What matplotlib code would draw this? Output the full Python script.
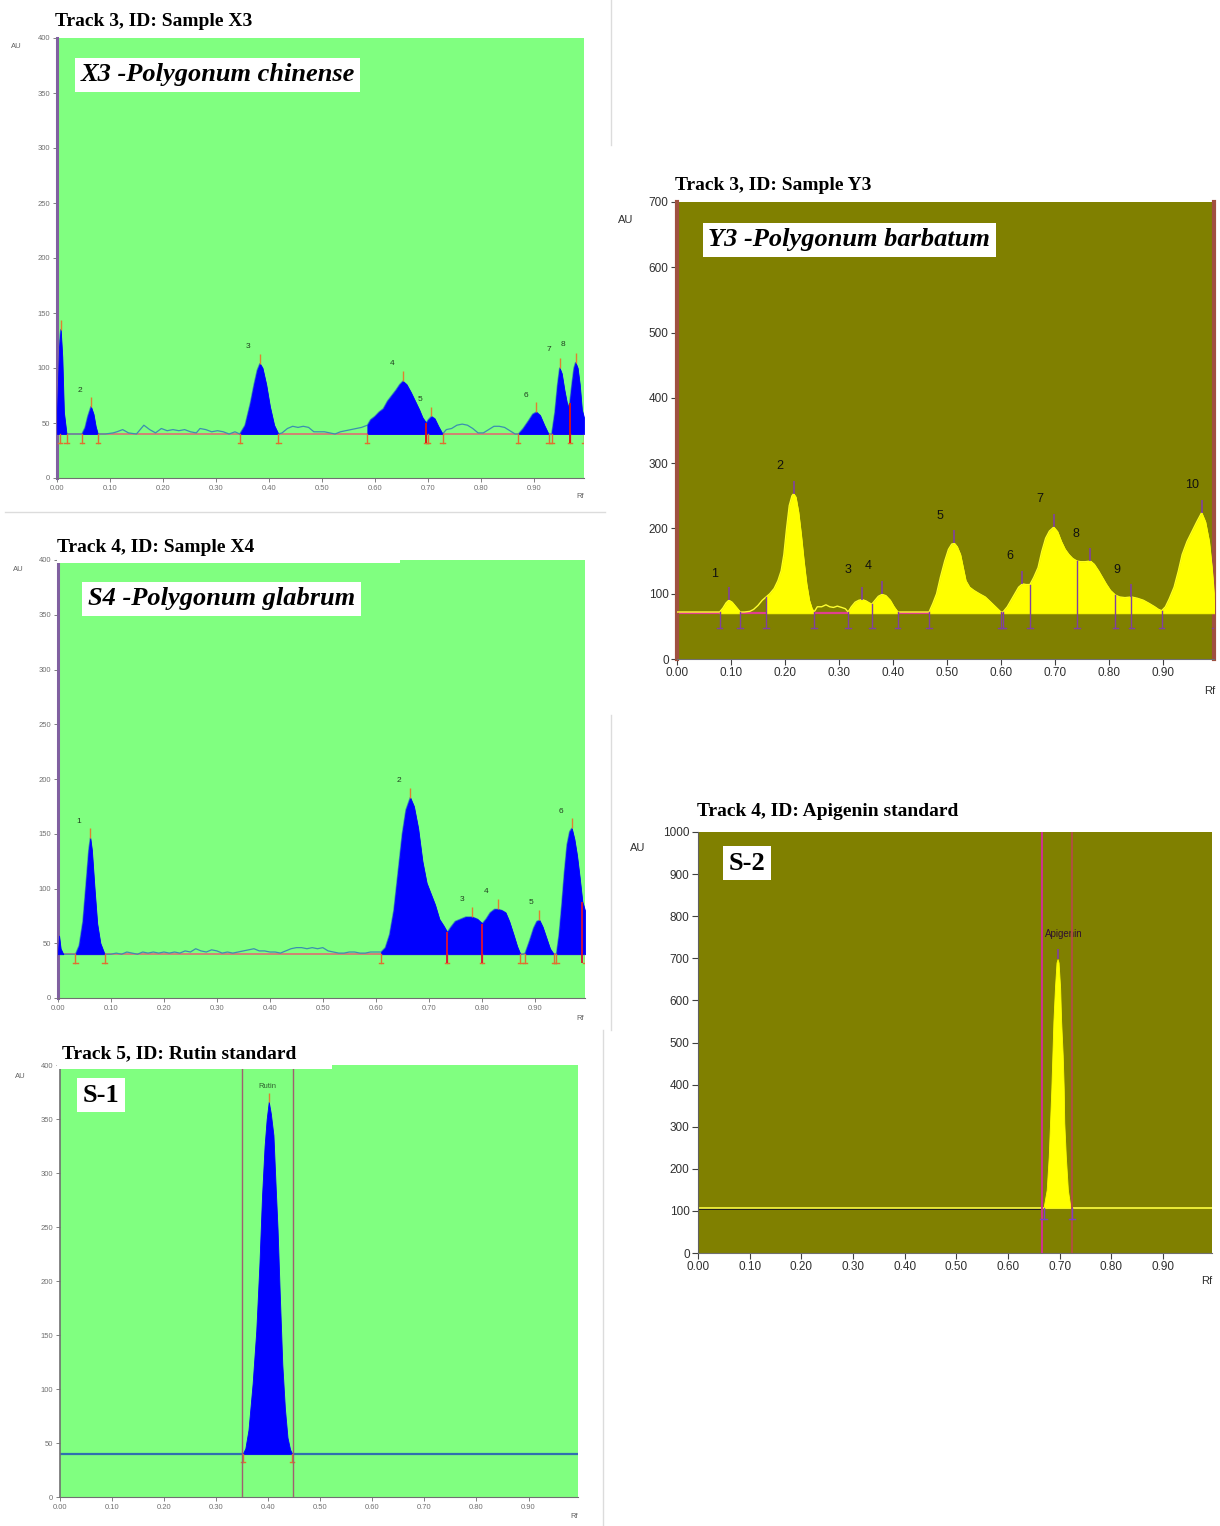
import numpy as np
import matplotlib
matplotlib.use("Agg")
import matplotlib.pyplot as plt
from matplotlib.patches import Rectangle
from matplotlib.lines import Line2D

W, H = 1220, 1526

# ---- X3 (Polygonum chinense) ----
x3_rf = [0.000, 0.004, 0.007, 0.010, 0.013, 0.018, 0.030, 0.047, 0.053, 0.058, 0.064, 0.069, 0.073, 0.077,
         0.091, 0.106, 0.113, 0.124, 0.135, 0.150, 0.164, 0.175, 0.186, 0.197, 0.208, 0.219, 0.230, 0.241,
         0.252, 0.263, 0.270, 0.281, 0.292, 0.303, 0.314, 0.325, 0.336, 0.345, 0.355, 0.365, 0.372, 0.378,
         0.383, 0.388, 0.395, 0.402, 0.410, 0.418, 0.425, 0.435, 0.445, 0.455, 0.465, 0.475, 0.485, 0.495,
         0.505, 0.515, 0.525, 0.535, 0.545, 0.555, 0.565, 0.575, 0.586, 0.592, 0.600, 0.608, 0.616, 0.624,
         0.632, 0.640, 0.647, 0.653, 0.660, 0.668, 0.676, 0.684, 0.690, 0.697, 0.701, 0.707, 0.713, 0.720,
         0.728, 0.735, 0.745, 0.755, 0.765, 0.775, 0.785, 0.795, 0.805, 0.815, 0.825, 0.835, 0.845, 0.855,
         0.865, 0.871, 0.880, 0.890, 0.898, 0.905, 0.912, 0.920, 0.928, 0.934, 0.940, 0.945, 0.949, 0.953,
         0.958, 0.964, 0.968, 0.972, 0.976, 0.979, 0.983, 0.987, 0.991, 0.995]
x3_au = [60, 120, 135, 110, 60, 40, 40, 40, 46, 56, 65, 58, 47, 40,
         40, 41, 42, 44, 41, 40, 48, 44, 41, 45, 43, 44, 43, 44,
         42, 41, 45, 44, 42, 43, 42, 40, 42, 40, 48, 68, 85, 98,
         104, 100, 85, 65, 48, 40, 41, 45, 47, 46, 47, 46, 42, 42,
         42, 41, 40, 42, 43, 44, 45, 46, 48, 53, 56, 60, 63, 70,
         75, 80, 85, 88, 85, 78, 70, 62, 55, 50, 53, 56, 54, 47,
         40, 44, 45, 48, 49, 48, 45, 41, 41, 44, 47, 47, 46, 43,
         40, 40, 45, 52, 58, 60, 57, 48, 40, 40, 60, 85, 100, 95,
         80, 65, 68, 85, 100, 105, 100, 85, 62, 55]
x3_peak_start = [0.000, 0.047, 0.345, 0.586, 0.871, 0.934]
x3_peak_end = [0.018, 0.077, 0.418, 0.728, 0.928, 0.995]
x3_top_rf = [0.007, 0.064, 0.383, 0.653, 0.707, 0.905, 0.949, 0.979]
x3_top_au = [135, 65, 104, 88, 56, 60, 100, 105]
x3_labels = ["2", "3", "4", "5", "6", "7", "8"]
x3_lab_rf = [0.044, 0.361, 0.632, 0.685, 0.885, 0.928, 0.956]
x3_lab_au = [80, 120, 104, 71, 75, 117, 121]
x3_brackets = [0.006, 0.018, 0.047, 0.077, 0.345, 0.418, 0.586, 0.697, 0.701, 0.728, 0.871, 0.928, 0.934, 0.968, 0.995]
x3_split_rf = [0.697, 0.968]
x3_split_au = [50, 68]

# ---- X4 (Polygonum glabrum) ----
x4_rf = [0.000, 0.002, 0.005, 0.010, 0.020, 0.033, 0.040, 0.047, 0.053, 0.058, 0.061, 0.064, 0.069, 0.074,
         0.080, 0.088, 0.10, 0.11, 0.12, 0.13, 0.14, 0.15, 0.16, 0.17, 0.18, 0.19, 0.20, 0.21, 0.22, 0.23,
         0.24, 0.25, 0.26, 0.27, 0.28, 0.29, 0.30, 0.31, 0.32, 0.33, 0.34, 0.35, 0.36, 0.37, 0.38, 0.39,
         0.40, 0.41, 0.42, 0.43, 0.44, 0.45, 0.46, 0.47, 0.48, 0.49, 0.50, 0.51, 0.52, 0.53, 0.54, 0.55,
         0.56, 0.57, 0.58, 0.59, 0.60, 0.61, 0.618, 0.626, 0.634, 0.642, 0.650, 0.657, 0.665, 0.672, 0.680,
         0.688, 0.696, 0.704, 0.712, 0.720, 0.728, 0.735, 0.742, 0.750, 0.760, 0.770, 0.782, 0.792, 0.801,
         0.808, 0.816, 0.824, 0.831, 0.838, 0.845, 0.852, 0.860, 0.867, 0.873, 0.878, 0.882, 0.890, 0.898,
         0.904, 0.909, 0.915, 0.922, 0.929, 0.936, 0.941, 0.946, 0.951, 0.956, 0.961, 0.966, 0.970, 0.975,
         0.980, 0.985, 0.990, 0.995]
x4_au = [42, 57, 45, 40, 40, 40, 48, 70, 105, 135, 146, 135, 100, 68,
         50, 40, 40, 41, 40, 42, 41, 40, 42, 41, 42, 41, 42, 41, 42, 41,
         43, 42, 45, 43, 42, 44, 43, 41, 42, 41, 42, 43, 44, 45, 43, 43,
         42, 42, 41, 43, 45, 46, 46, 45, 46, 45, 46, 43, 42, 41, 41, 42,
         42, 41, 41, 42, 42, 42, 46, 58, 80, 115, 150, 172, 183, 175, 155,
         125, 105, 95, 85, 72, 66, 60, 65, 70, 72, 74, 74, 72, 68,
         72, 78, 81, 81, 80, 78, 70, 58, 47, 40, 40, 41, 52, 64,
         70, 71, 65, 55, 45, 40, 40, 58, 85, 115, 140, 152, 155, 145,
         130, 110, 88, 80]
x4_peak_start = [0.000, 0.033, 0.610, 0.882, 0.941]
x4_peak_end = [0.010, 0.088, 0.873, 0.936, 0.995]
x4_top_rf = [0.061, 0.665, 0.782, 0.831, 0.909, 0.970]
x4_top_au = [146, 183, 74, 81, 71, 155]
x4_labels = ["1", "2", "3", "4", "5", "6"]
x4_lab_rf = [0.040, 0.643, 0.762, 0.809, 0.893, 0.949]
x4_lab_au = [161, 199, 90, 97, 87, 170]
x4_brackets = [0.033, 0.088, 0.610, 0.735, 0.801, 0.873, 0.882, 0.936, 0.941, 0.995]
x4_split_rf = [0.735, 0.801, 0.990]
x4_split_au = [60, 68, 88]

# ---- S-1 Rutin standard ----
s1_rf = [0.000, 0.351, 0.356, 0.362, 0.370, 0.377, 0.383, 0.388, 0.393, 0.397, 0.401, 0.405, 0.410,
         0.414, 0.418, 0.422, 0.427, 0.432, 0.437, 0.442, 0.446, 0.995]
s1_au = [40, 40, 45, 62, 105, 154, 215, 278, 325, 350, 366, 355, 335,
         290, 247, 190, 123, 82, 55, 44, 40, 40]
s1_peak_start = [0.351]
s1_peak_end = [0.446]
s1_top_rf = [0.401]
s1_top_au = [366]
s1_brackets = [0.351, 0.446]
s1_vlines = [0.349, 0.448]

# ---- Y3 (Polygonum barbatum) ----
y3_rf = [0.000, 0.079, 0.085, 0.091, 0.096, 0.102, 0.109, 0.117, 0.125, 0.135, 0.142, 0.150, 0.158, 0.165,
         0.172, 0.180, 0.187, 0.193, 0.198, 0.203, 0.208, 0.213, 0.216, 0.220, 0.225, 0.230, 0.235, 0.240,
         0.245, 0.250, 0.254, 0.260, 0.268, 0.276, 0.283, 0.290, 0.297, 0.305, 0.312, 0.317, 0.323, 0.330,
         0.337, 0.343, 0.350, 0.356, 0.361, 0.367, 0.373, 0.380, 0.387, 0.395, 0.402, 0.409, 0.467, 0.474,
         0.481, 0.488, 0.496, 0.503, 0.509, 0.514, 0.519, 0.525, 0.530, 0.535, 0.542, 0.550, 0.560, 0.571,
         0.580, 0.590, 0.600, 0.604, 0.612, 0.619, 0.626, 0.633, 0.640, 0.647, 0.654, 0.661, 0.669, 0.676,
         0.683, 0.690, 0.698, 0.705, 0.712, 0.719, 0.726, 0.733, 0.741, 0.748, 0.756, 0.766, 0.773, 0.781,
         0.788, 0.795, 0.803, 0.812, 0.820, 0.830, 0.842, 0.853, 0.864, 0.875, 0.885, 0.892, 0.898, 0.905,
         0.912, 0.921, 0.929, 0.936, 0.945, 0.954, 0.963, 0.972, 0.979, 0.986, 0.991, 0.996]
y3_au = [72, 72, 78, 86, 90, 87, 80, 72, 72, 73, 76, 82, 90, 95,
         100, 108, 120, 135, 160, 200, 235, 250, 253, 248, 225, 190, 150, 115,
         90, 77, 72, 80, 80, 83, 80, 79, 81, 79, 77, 72, 80, 87,
         90, 91, 89, 86, 84, 90, 96, 99, 97, 90, 80, 72, 72, 85,
         100, 125, 150, 168, 176, 177, 172, 160, 140, 120, 110, 105, 100, 95,
         88, 80, 72, 72, 80, 90, 100, 110, 115, 114, 114, 125, 140, 165,
         185, 196, 202, 195, 180, 168, 160, 154, 150, 149, 149, 150, 145, 135,
         125, 115, 105, 98, 95, 94, 95, 93, 90, 85, 80, 76, 74, 80,
         92, 110, 135, 160, 180, 195, 210, 224, 210, 180, 140, 90]
y3_peak_start = [0.079, 0.165, 0.317, 0.467, 0.604]
y3_peak_end = [0.117, 0.254, 0.409, 0.600, 0.996]
y3_top_rf = [0.096, 0.216, 0.343, 0.380, 0.514, 0.640, 0.698, 0.766, 0.842, 0.972]
y3_top_au = [90, 253, 91, 99, 177, 115, 202, 150, 95, 224]
y3_labels = ["1", "2", "3", "4", "5", "6", "7", "8", "9", "10"]
y3_lab_rf = [0.069, 0.190, 0.317, 0.355, 0.488, 0.617, 0.672, 0.739, 0.815, 0.954]
y3_lab_au = [130, 295, 136, 142, 219, 158, 245, 192, 136, 266]
y3_brackets = [0.079, 0.117, 0.165, 0.254, 0.317, 0.361, 0.409, 0.467, 0.600, 0.604,
               0.654, 0.741, 0.812, 0.842, 0.898, 0.996]
y3_bracket_top = [72, 72, 95, 72, 72, 84, 72, 72, 72, 72, 114, 150, 98, 95, 74, 90]

# ---- S-2 Apigenin standard ----
s2_rf = [0.000, 0.669, 0.675, 0.679, 0.6815, 0.684, 0.686, 0.688, 0.691, 0.694, 0.696, 0.698, 0.701,
         0.703, 0.706, 0.708, 0.709, 0.712, 0.716, 0.721, 0.996]
s2_au = [108, 108, 150, 230, 310, 390, 470, 550, 630, 690, 698, 690, 630,
         550, 470, 390, 310, 230, 150, 108, 108]
s2_peak_start = [0.669]
s2_peak_end = [0.721]
s2_top_rf = [0.696]
s2_top_au = [698]
s2_brackets = [0.669, 0.724]
s2_vlines = [0.666, 0.724]

xticks = [0.0, 0.1, 0.2, 0.3, 0.4, 0.5, 0.6, 0.7, 0.8, 0.9]

SERIF = ["Liberation Serif", "DejaVu Serif"]
SANS = ["Liberation Sans", "DejaVu Sans"]


def fbox(l, t, r, b):
    return [l / W, 1 - b / H, (r - l) / W, (b - t) / H]


def fpt(x, y):
    return x / W, 1 - y / H


def setup_axes(ax, bg, ymax, ystep, small, spine_col):
    ax.set_facecolor(bg)
    ax.set_xlim(0, 0.995)
    ax.set_ylim(0, ymax)
    ax.set_xticks(xticks)
    ax.set_xticklabels(["%.2f" % t for t in xticks])
    ax.set_yticks(list(range(0, ymax + 1, ystep)))
    for s in ["top", "right"]:
        ax.spines[s].set_visible(False)
    ax.spines["bottom"].set_color("#707070")
    ax.spines["left"].set_color(spine_col)
    if small:
        ax.spines["left"].set_linewidth(2.2)
        ax.tick_params(length=3, width=0.7, color="#808080", labelsize=5.5,
                       labelcolor="#707070", pad=2)
    else:
        ax.tick_params(length=4, width=0.8, color="#404040", labelsize=8.5,
                       labelcolor="#303030", pad=2)
    for lab in ax.get_xticklabels() + ax.get_yticklabels():
        lab.set_family(SANS)


def fill_peaks(ax, rf, au, base, starts, ends, col, z=3):
    rf = np.array(rf)
    au = np.array(au)
    for s, e in zip(starts, ends):
        m = (rf >= s) & (rf <= e)
        ax.fill_between(rf[m], au[m], base, color=col, lw=0.6, zorder=z)


def brackets(ax, pos, base, depth, col, w=0.004, tops=None):
    for i, b in enumerate(pos):
        top = base if tops is None else tops[i]
        ax.plot([b, b], [base - depth, top], color=col, lw=1.0, zorder=4)
        ax.plot([b - w, b + w], [base - depth, base - depth], color=col, lw=1.0, zorder=4)


def sub_label(ax, fx, fy, text, italic=True, size=19, ha="left"):
    ax.text(fx, fy, text, transform=ax.transAxes, ha=ha, va="center",
            fontsize=size, family=SERIF, weight="bold",
            style="italic" if italic else "normal", zorder=6,
            bbox=dict(fc="white", ec="none", pad=4))


fig = plt.figure(figsize=(W / 100, H / 100), dpi=100)
fig.patch.set_facecolor("white")

green = "#80ff80"
olive = "#808000"

# X3 panel
ax = fig.add_axes(fbox(57, 38, 584, 478))
setup_axes(ax, green, 400, 50, True, "#8060a0")
ax.axhline(40, color="#e07070", lw=1.2, zorder=2)
ax.plot(x3_rf, x3_au, color="#3a8fb0", lw=0.9, zorder=2)
fill_peaks(ax, x3_rf, x3_au, 40, x3_peak_start, x3_peak_end, "#0000ff")
brackets(ax, x3_brackets, 40, 8, "#e07030")
ax.vlines(x3_split_rf, 32, x3_split_au, color="#e01010", lw=1.3, zorder=5)
ax.vlines(x3_top_rf, x3_top_au, np.array(x3_top_au) + 9, color="#e08030", lw=1, zorder=5)
for t, x, y in zip(x3_labels, x3_lab_rf, x3_lab_au):
    ax.text(x, y, t, fontsize=6, color="#204020", ha="center", va="center", family=SANS)
sub_label(ax, 0.044, 0.916, "X3 -Polygonum chinense")

# X4 panel
ax = fig.add_axes(fbox(58, 560, 585, 998))
setup_axes(ax, green, 400, 50, True, "#8060a0")
ax.axhline(40, color="#e07070", lw=1.2, zorder=2)
ax.plot(x4_rf, x4_au, color="#3a8fb0", lw=0.9, zorder=2)
fill_peaks(ax, x4_rf, x4_au, 40, x4_peak_start, x4_peak_end, "#0000ff")
brackets(ax, x4_brackets, 40, 8, "#e07030")
ax.vlines(x4_split_rf, 32, x4_split_au, color="#e01030", lw=1.3, zorder=5)
ax.vlines(x4_top_rf, x4_top_au, np.array(x4_top_au) + 9, color="#e08030", lw=1, zorder=5)
for t, x, y in zip(x4_labels, x4_lab_rf, x4_lab_au):
    ax.text(x, y, t, fontsize=6, color="#204020", ha="center", va="center", family=SANS)
sub_label(ax, 0.057, 0.911, "S4 -Polygonum glabrum")

# S-1 panel
ax = fig.add_axes(fbox(60, 1065, 578, 1497))
setup_axes(ax, green, 400, 50, True, "#707070")
ax.spines["left"].set_linewidth(1.2)
ax.axhline(40, color="#3070b0", lw=1.6, zorder=2)
fill_peaks(ax, s1_rf, s1_au, 40, s1_peak_start, s1_peak_end, "#0000ff")
brackets(ax, s1_brackets, 40, 8, "#e07030")
for v in s1_vlines:
    ax.axvline(v, color="#a06070", lw=1.0, zorder=4)
ax.vlines(s1_top_rf, s1_top_au, np.array(s1_top_au) + 8, color="#e08030", lw=1, zorder=5)
ax.text(0.398, 380, "Rutin", fontsize=5.5, color="#306030", ha="center", va="center", family=SANS)
sub_label(ax, 0.079, 0.93, "S-1", italic=False, size=19, ha="center")

# Y3 panel
ax = fig.add_axes(fbox(677, 202, 1214, 659))
setup_axes(ax, olive, 700, 100, False, "#a05040")
ax.spines["left"].set_linewidth(3)
ax.spines["right"].set_visible(True)
ax.spines["right"].set_color("#a05040")
ax.spines["right"].set_linewidth(3)
rfa = np.array(y3_rf)
gap_s = [0.0] + y3_peak_end[:-1]
gap_e = y3_peak_start
for s, e in zip(gap_s, gap_e):
    ax.plot([s, e], [70, 70], color="#e0408f", lw=1.6, zorder=2)
ax.plot(y3_rf, y3_au, color="#ffff30", lw=1.0, zorder=3)
fill_peaks(ax, y3_rf, y3_au, 70, y3_peak_start, y3_peak_end, "#ffff00")
brackets(ax, y3_brackets, 48, 0, "#8040a0", w=0.005, tops=y3_bracket_top)
ax.vlines(y3_top_rf, y3_top_au, np.array(y3_top_au) + 20, color="#8040a0", lw=1.2, zorder=5)
for t, x, y in zip(y3_labels, y3_lab_rf, y3_lab_au):
    ax.text(x, y, t, fontsize=9, color="#101010", ha="center", va="center", family=SANS)
sub_label(ax, 0.058, 0.917, "Y3 -Polygonum barbatum")

# S-2 panel
ax = fig.add_axes(fbox(698, 832, 1212, 1253))
setup_axes(ax, olive, 1000, 100, False, "#606060")
ax.plot([0, s2_vlines[0]], [104, 104], color="#202020", lw=1.4, zorder=2)
ax.plot([0, 0.995], [108, 108], color="#ffff40", lw=1.2, zorder=2)
fill_peaks(ax, s2_rf, s2_au, 108, s2_peak_start, s2_peak_end, "#ffff00")
ax.axvline(s2_vlines[0], color="#d03090", lw=1.4, zorder=4)
ax.axvline(s2_vlines[1], color="#b05040", lw=1.4, zorder=4)
brackets(ax, s2_brackets, 108, 28, "#8040c0", w=0.006)
ax.vlines(s2_top_rf, s2_top_au, np.array(s2_top_au) + 25, color="#8040a0", lw=1.2, zorder=5)
ax.text(0.709, 758, "Apigenin", fontsize=7, color="#301030", ha="center", va="center", family=SANS)
sub_label(ax, 0.095, 0.926, "S-2", italic=False, size=19, ha="center")

# axis unit labels
for (x, y), s in zip([(16, 47), (18, 570), (20, 1076)], ["AU"] * 3):
    fig.text(*fpt(x, y), s, fontsize=5.5, color="#606060", ha="center", va="center", family=SANS)
for (x, y) in [(580, 497), (580, 1018), (574, 1516)]:
    fig.text(*fpt(x, y), "Rf", fontsize=5.5, color="#606060", ha="center", va="center", family=SANS)
for (x, y) in [(626, 220), (638, 848)]:
    fig.text(*fpt(x, y), "AU", fontsize=8, color="#303030", ha="center", va="center", family=SANS)
for (x, y) in [(1210, 691), (1207, 1281)]:
    fig.text(*fpt(x, y), "Rf", fontsize=8, color="#303030", ha="center", va="center", family=SANS)

# white strips behind titles
fig.patches.append(Rectangle(fpt(57, 563), 343 / W, 12 / H, transform=fig.transFigure,
                             fc="white", ec="none", zorder=5))
fig.patches.append(Rectangle(fpt(57, 1069), 275 / W, 20 / H, transform=fig.transFigure,
                             fc="white", ec="none", zorder=5))

titles = [((55, 22), "Track 3, ID: Sample X3"),
          ((675, 185), "Track 3, ID: Sample Y3"),
          ((57, 548), "Track 4, ID: Sample X4"),
          ((62, 1054), "Track 5, ID: Rutin standard"),
          ((697, 812), "Track 4, ID: Apigenin standard")]
for (x, y), s in titles:
    fig.text(*fpt(x, y), s, fontsize=14, weight="bold", family=SERIF,
             ha="left", va="center", zorder=6)

# faint borders of the pasted sub-figures
for (x0, y0, x1, y1) in [(5, 512, 605, 512), (611, 0, 611, 145), (611, 715, 611, 1030),
                         (603, 1030, 603, 1526)]:
    a, b = fpt(x0, y0)
    c, d = fpt(x1, y1)
    fig.lines.append(Line2D([a, c], [b, d], transform=fig.transFigure, color="#dcdcdc", lw=1))

fig.savefig("out.png", dpi=100)
